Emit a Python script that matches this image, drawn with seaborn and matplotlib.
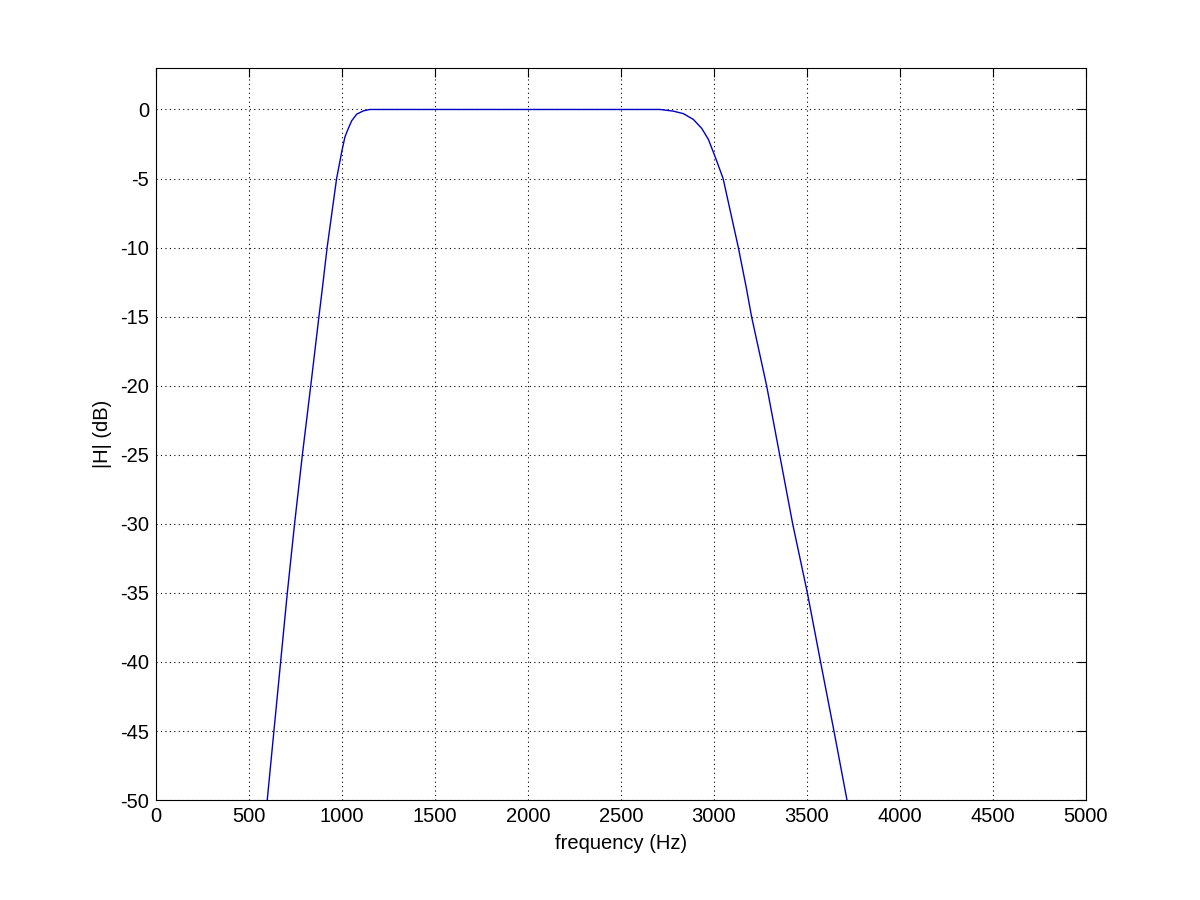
import matplotlib
matplotlib.use("Agg")
import seaborn as sns
import matplotlib.pyplot as plt

# filter magnitude response
freq_hz = [598, 634, 670, 706, 745, 787, 832, 876, 894, 920, 971, 1001, 1016, 1034,
           1052, 1079, 1115, 1150, 1300, 2000, 2710, 2781, 2835, 2889, 2934, 2970,
           2996, 3011, 3049, 3131, 3175, 3202, 3283, 3353, 3423, 3502, 3573, 3645, 3715]
mag_db = [-50, -45, -40, -35, -30, -25, -20, -15, -13, -10, -5, -2.9, -1.98, -1.37,
          -0.82, -0.34, -0.1, 0, 0, 0, 0, -0.12, -0.3, -0.72, -1.37, -2.17,
          -3.07, -3.6, -5, -10, -13, -15, -20, -25, -30, -35, -40, -45, -50]

x_ticks = list(range(0, 5001, 500))
y_ticks = list(range(-50, 1, 5))

sns.set_style("white")
plt.rcParams["font.family"] = ["Liberation Sans", "DejaVu Sans"]
plt.rcParams["font.size"] = 14.5
plt.rcParams["axes.unicode_minus"] = False

fig = plt.figure(figsize=(12, 9), dpi=100)
ax = fig.add_axes([0.13, 0.111, 0.775, 0.8134])

sns.lineplot(x=freq_hz, y=mag_db, ax=ax, color="#0000c8", linewidth=1.0,
             sort=False, estimator=None)

ax.set_xlim(0, 5000)
ax.set_ylim(-50, 3)
ax.set_xticks(x_ticks)
ax.set_yticks(y_ticks)
ax.grid(True, color="black", linestyle=(0, (1, 3)), linewidth=0.8)
ax.tick_params(direction="in", top=True, right=True, length=6.5, width=0.8,
               labelsize=14.5, colors="black", pad=5)
for s in ax.spines.values():
    s.set_color("black")
    s.set_linewidth(0.8)

ax.set_xlabel("frequency (Hz)", fontsize=14.5, labelpad=6, color="black")
ax.set_ylabel("|H| (dB)", fontsize=14.5, labelpad=6, color="black")

fig.savefig("out.png", dpi=100)
